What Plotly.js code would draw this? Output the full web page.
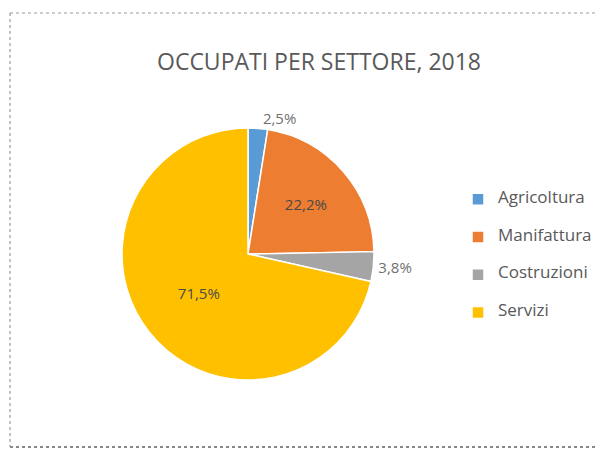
<!DOCTYPE html>
<html>
<head>
<meta charset="utf-8">
<script src="https://cdn.plot.ly/plotly-3.0.1.min.js"></script>
<style>html,body{margin:0;padding:0;background:#fff;}#chart{width:597px;height:456px;}</style>
</head>
<body>
<div id="chart"></div>
<script>
const categories = ["Agricoltura", "Manifattura", "Costruzioni", "Servizi"];
const shares = [2.5, 22.2, 3.8, 71.5];
const colors = ["#5B9BD5", "#ED7D31", "#A5A5A5", "#FFC000"];
const labelPositions = ["outside", "inside", "outside", "inside"];
const chartTitle = "OCCUPATI PER SETTORE, 2018";

const W = 597, H = 456;
const cx = 248, cy = 254, r = 126;

// legend labels padded with blank lines to reproduce the wide row spacing
const legendLabels = categories.map(c =>
  "&nbsp;<br><span style=\"font-size:17px\">" + c + "</span><br>&nbsp;");

const trace = {
  type: "pie",
  labels: legendLabels,
  values: shares,
  sort: false,
  direction: "clockwise",
  rotation: 0,
  marker: { colors: colors, line: { color: "#ffffff", width: 1.5 } },
  textposition: labelPositions,
  texttemplate: "%{percent:.1%}",
  textfont: { family: "Open Sans, sans-serif", size: 15, color: "#595959" },
  insidetextfont: { family: "Open Sans, sans-serif", size: 15, color: "#4a4a4a" },
  outsidetextfont: { family: "Open Sans, sans-serif", size: 15, color: "#707070" },
  insidetextorientation: "horizontal",
  hoverinfo: "none",
  domain: {
    x: [(cx - r) / W, (cx + r) / W],
    y: [(H - cy - r) / H, (H - cy + r) / H]
  }
};

const layout = {
  width: W, height: H,
  margin: { l: 0, r: 0, t: 0, b: 0 },
  paper_bgcolor: "#ffffff",
  separators: ",.",
  title: {
    text: chartTitle,
    font: { family: "Open Sans, sans-serif", size: 23, color: "#595959" },
    x: 319 / W, xanchor: "center",
    y: (H - 62) / H, yanchor: "middle"
  },
  showlegend: true,
  legend: {
    x: 458 / W, xanchor: "left",
    y: (H - 256) / H, yanchor: "middle",
    font: { family: "Open Sans, sans-serif", size: 8.9, color: "#595959" },
    bgcolor: "rgba(0,0,0,0)"
  },
  shapes: [
    { type: "line", xref: "paper", yref: "paper", x0: 10 / W, x1: 1.02, y0: (H - 13) / H, y1: (H - 13) / H,
      line: { color: "#999999", width: 1, dash: "dot" } },
    { type: "line", xref: "paper", yref: "paper", x0: 10 / W, x1: 10 / W, y0: (H - 13) / H, y1: (H - 447) / H,
      line: { color: "#888888", width: 1, dash: "dot" } },
    { type: "line", xref: "paper", yref: "paper", x0: 10 / W, x1: 1.02, y0: (H - 447) / H, y1: (H - 447) / H,
      line: { color: "#888888", width: 2, dash: "dot" } }
  ]
};

Plotly.newPlot("chart", [trace], layout, { displayModeBar: false, staticPlot: true });
</script>
</body>
</html>
